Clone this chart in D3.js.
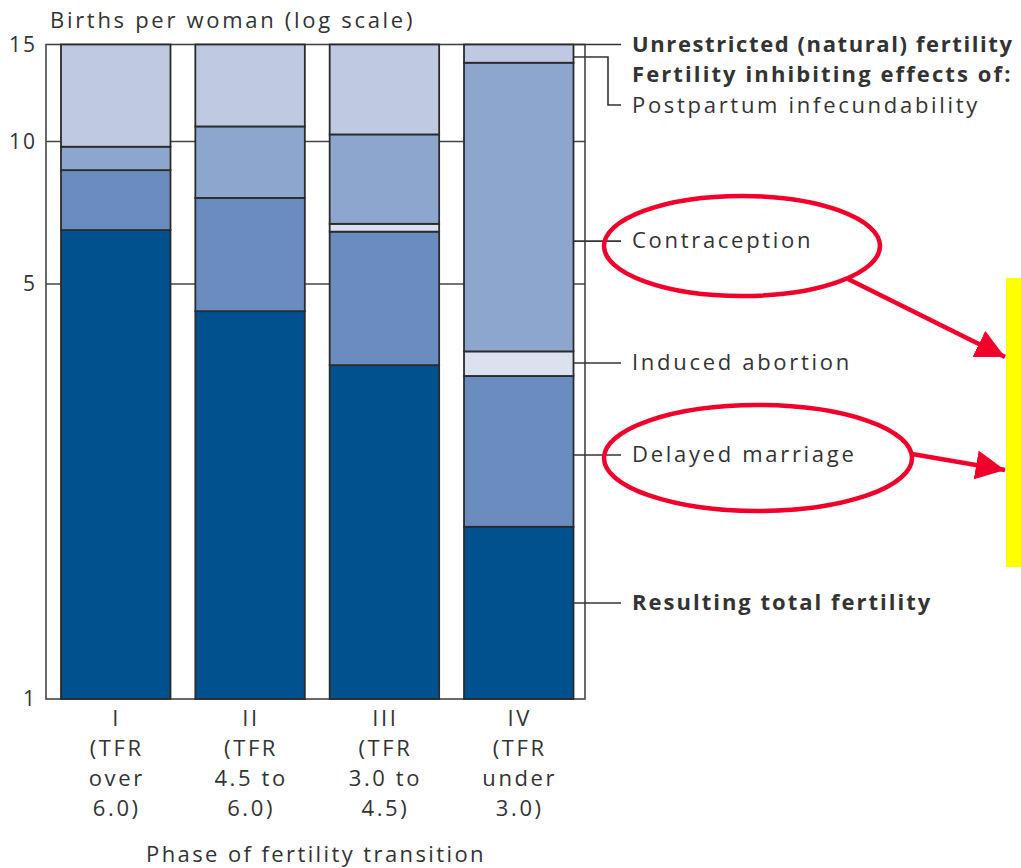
<!DOCTYPE html>
<html>
<head>
<meta charset="utf-8">
<script src="https://cdn.jsdelivr.net/npm/d3@7"></script>
<style>
  html, body { margin: 0; padding: 0; background: #fff; }
  svg { display: block; }
  text { font-family: "Open Sans", "DejaVu Sans", sans-serif; fill: #333; }
</style>
</head>
<body>
<svg id="chart" width="1021" height="868"></svg>
<script>
// ---------- DATA ----------
const phases = ["I", "II", "III", "IV"];
const phaseLabels = [
  ["I", "(TFR", "over", "6.0)"],
  ["II", "(TFR", "4.5 to", "6.0)"],
  ["III", "(TFR", "3.0 to", "4.5)"],
  ["IV", "(TFR", "under", "3.0)"]
];
const seriesNames = ["Resulting total fertility", "Delayed marriage", "Induced abortion", "Contraception", "Postpartum infecundability"];
// births per woman attributable to each layer (stack sums to 15 = natural fertility)
const resulting    = [6.5, 4.5, 3.65, 1.95];
const delayed      = [2.2, 3.1, 2.8, 1.55];
const abortion     = [0.0, 0.0, 0.25, 0.35];
const contraception= [1.05, 3.05, 3.6, 10.05];
const postpartum   = [5.25, 4.35, 4.7, 1.1];
const yTicks = [1, 5, 10, 15];
// legend anchor levels (births per woman) on phase IV
const legendItems = [
  { text: "Unrestricted (natural) fertility", at: 15, bold: true, ls: 1.6 },
  { text: "Postpartum infecundability", at: 14.24, bold: false, elbow: true },
  { text: "Contraception", at: 6.16, bold: false },
  { text: "Induced abortion", at: 3.68, bold: false },
  { text: "Delayed marriage", at: 2.576, bold: false },
  { text: "Resulting total fertility", at: 1.451, bold: true }
];
const colors = ["#02518f", "#6b8cbf", "#dce1ef", "#8ca6ce", "#bfc9e2"];

// ---------- LAYOUT ----------
const svg = d3.select("#chart");
const frame = { left: 46, right: 585, top: 44.5, bottom: 699 };
const FS = 22, LS_REG = 2.7, LS_BOLD = 2.0;

const x = d3.scaleBand().domain(phases)
  .range([61, 573.5]).paddingInner(0.185).paddingOuter(0);
// the printed axis is a non-uniform "log" scale: piecewise log between ticks
const y = d3.scaleLog().domain(yTicks).range([699, 284, 141.5, 44.5]);

const table = phases.map((p, i) => ({
  phase: p,
  s0: resulting[i], s1: delayed[i], s2: abortion[i], s3: contraception[i], s4: postpartum[i]
}));
const stack = d3.stack().keys(["s0", "s1", "s2", "s3", "s4"]);
const layers = stack(table);

// gridlines
svg.append("g").selectAll("line").data([5, 10]).join("line")
  .attr("x1", frame.left).attr("x2", frame.right)
  .attr("y1", d => y(d)).attr("y2", d => y(d))
  .attr("stroke", "#444").attr("stroke-width", 1.6);

// frame
svg.append("rect")
  .attr("x", frame.left).attr("y", frame.top)
  .attr("width", frame.right - frame.left).attr("height", frame.bottom - frame.top)
  .attr("fill", "none").attr("stroke", "#444").attr("stroke-width", 1.6);

// bars
const gBars = svg.append("g");
layers.forEach((layer, li) => {
  gBars.append("g").selectAll("rect").data(layer.filter(d => d[1] - d[0] > 0)).join("rect")
    .attr("x", d => x(d.data.phase))
    .attr("width", x.bandwidth())
    .attr("y", d => y(Math.max(d[1], 1)))
    .attr("height", d => y(Math.max(d[0], 1)) - y(Math.max(d[1], 1)))
    .attr("fill", colors[li])
    .attr("stroke", "#2b2b2b").attr("stroke-width", 1.8);
});

// y axis labels
const yAxis = d3.axisLeft(y).tickValues(yTicks).tickSize(0).tickPadding(9).tickFormat(d3.format("d"));
const gy = svg.append("g").attr("transform", `translate(${frame.left},0)`).call(yAxis);
gy.select(".domain").remove();
gy.selectAll("text").attr("font-size", 21).attr("fill", "#333")
  .attr("letter-spacing", 2)
  .style("font-family", '"Open Sans", sans-serif');

svg.append("text").attr("x", 50).attr("y", 28)
  .attr("font-size", FS).attr("letter-spacing", LS_REG)
  .text("Births per woman (log scale)");

// x labels
const gx = svg.append("g");
phases.forEach((p, i) => {
  const cx = x(p) + x.bandwidth() / 2;
  const t = gx.append("text").attr("text-anchor", "middle").attr("font-size", FS).attr("letter-spacing", 2.6);
  phaseLabels[i].forEach((line, k) => {
    t.append("tspan").attr("x", cx + 1).attr("y", 726 + k * 30).text(line);
  });
});
svg.append("text").attr("x", 316).attr("y", 862).attr("text-anchor", "middle")
  .attr("font-size", FS).attr("letter-spacing", 2.4)
  .text("Phase of fertility transition");

// legend leaders
const barRight = x("IV") + x.bandwidth();
const gLeg = svg.append("g");
const labelX = 632, lineEnd = 621;
legendItems.forEach(item => {
  const yy = y(item.at);
  if (item.elbow) {
    const yLabel = 105;
    gLeg.append("path")
      .attr("d", `M${barRight},${yy}H608V${yLabel}H${lineEnd}`)
      .attr("fill", "none").attr("stroke", "#333").attr("stroke-width", 1.6);
    gLeg.append("text").attr("x", labelX).attr("y", yLabel + 8)
      .attr("font-size", FS).attr("letter-spacing", LS_REG).text(item.text);
  } else {
    gLeg.append("line").attr("x1", barRight).attr("x2", lineEnd)
      .attr("y1", yy).attr("y2", yy)
      .attr("stroke", "#333").attr("stroke-width", 1.6);
    gLeg.append("text").attr("x", labelX).attr("y", yy + 7)
      .attr("font-size", FS).attr("letter-spacing", item.ls != null ? item.ls : (item.bold ? LS_BOLD : LS_REG))
      .attr("font-weight", item.bold ? 700 : 400).text(item.text);
  }
});
gLeg.append("text").attr("x", labelX).attr("y", 82)
  .attr("font-size", FS).attr("font-weight", 700).attr("letter-spacing", 2.1)
  .text("Fertility inhibiting effects of:");

// annotations: red ellipses, arrows, yellow bar
const red = "#f0002a";
const defs = svg.append("defs");
defs.append("marker").attr("id", "ah").attr("viewBox", "0 0 10 10")
  .attr("refX", 10).attr("refY", 5).attr("markerWidth", 6.5).attr("markerHeight", 6.5)
  .attr("markerUnits", "strokeWidth").attr("orient", "auto")
  .append("path").attr("d", "M0,0L10,5L0,10Z").attr("fill", red);

svg.append("rect").attr("x", 1006).attr("y", 278).attr("width", 15).attr("height", 289).attr("fill", "#ffff00");

svg.append("ellipse").attr("cx", 742).attr("cy", 246).attr("rx", 138).attr("ry", 50)
  .attr("fill", "none").attr("stroke", red).attr("stroke-width", 4.5);
svg.append("ellipse").attr("cx", 758).attr("cy", 458).attr("rx", 154).attr("ry", 53)
  .attr("fill", "none").attr("stroke", red).attr("stroke-width", 4.5);

svg.append("line").attr("x1", 848).attr("y1", 279).attr("x2", 1005).attr("y2", 357)
  .attr("stroke", red).attr("stroke-width", 4.5).attr("marker-end", "url(#ah)");
svg.append("line").attr("x1", 912).attr("y1", 454).attr("x2", 1005).attr("y2", 470)
  .attr("stroke", red).attr("stroke-width", 4.5).attr("marker-end", "url(#ah)");
</script>
</body>
</html>
